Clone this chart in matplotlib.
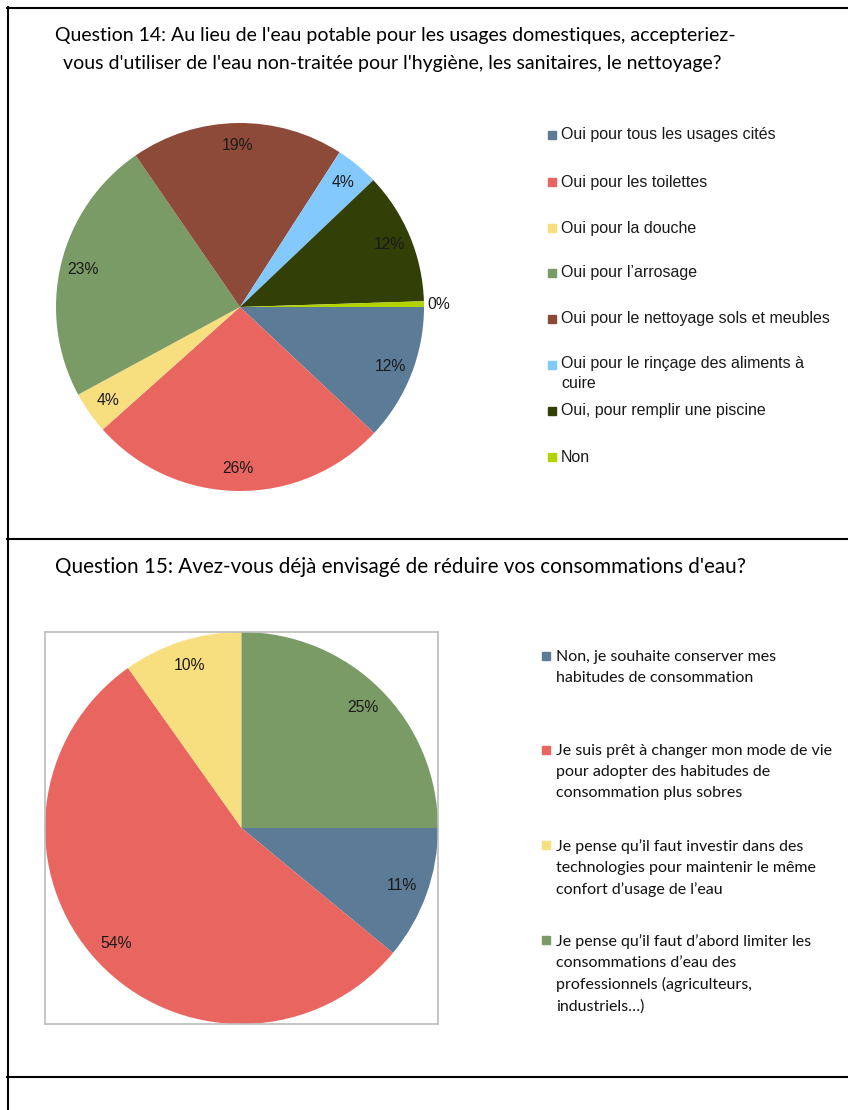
import numpy as np
import matplotlib
matplotlib.use("Agg")
import matplotlib.pyplot as plt
from matplotlib.lines import Line2D
from matplotlib.patches import Rectangle

W, H = 848, 1110

# Question 14 data
q14_labels = ["Oui pour tous les usages cités", "Oui pour les toilettes",
              "Oui pour la douche", "Oui pour l\u2019arrosage",
              "Oui pour le nettoyage sols et meubles",
              "Oui pour le rinçage des aliments à\ncuire",
              "Oui, pour remplir une piscine", "Non"]
q14_values = [12.0, 26.4, 3.7, 23.3, 18.7, 3.8, 11.6, 0.5]
q14_colors = ["#5C7B96", "#E8665F", "#F7DF80", "#7A9A66",
              "#8E4A39", "#84C9FE", "#323F06", "#B3D300"]

# Question 15 data
q15_labels = ["Non, je souhaite conserver mes\nhabitudes de consommation",
              "Je suis prêt à changer mon mode de vie\npour adopter des habitudes de\nconsommation plus sobres",
              "Je pense qu\u2019il faut investir dans des\ntechnologies pour maintenir le même\nconfort d\u2019usage de l\u2019eau",
              "Je pense qu\u2019il faut d\u2019abord limiter les\nconsommations d\u2019eau des\nprofessionnels (agriculteurs,\nindustriels\u2026)"]
q15_values = [11.0, 54.2, 9.8, 25.0]
q15_colors = ["#5C7B96", "#E8665F", "#F7DF80", "#7A9A66"]

fig = plt.figure(figsize=(W / 100, H / 100), dpi=100)


def px_axes(x0, y0, w, h):
    return fig.add_axes([x0 / W, 1 - (y0 + h) / H, w / W, h / H])


def fx(x):
    return x / W


def fy(y):
    return 1 - y / H


# table borders
for y in [8, 539, 1077]:
    fig.add_artist(Line2D([fx(7), 1], [fy(y), fy(y)], color="black", lw=1.5))
fig.add_artist(Line2D([fx(7.5), fx(7.5)], [fy(7), 0], color="black", lw=1.5))

title_font = "Lato"
fig.text(fx(55), fy(35), "Question 14: Au lieu de l'eau potable pour les usages domestiques, accepteriez-",
         fontsize=14, family=title_font, va="center", ha="left")
fig.text(fx(392), fy(63), "vous d'utiliser de l'eau non-traitée pour l'hygiène, les sanitaires, le nettoyage?",
         fontsize=14, family=title_font, va="center", ha="center")
fig.text(fx(55), fy(567), "Question 15: Avez-vous déjà envisagé de réduire vos consommations d'eau?",
         fontsize=14.9, family=title_font, va="center", ha="left")

lbl = dict(fontsize=11.3, family="Liberation Sans", color="#1A1A1A")

# pie 14
ax1 = px_axes(56, 123, 368, 368)
wedges, texts, autotexts = ax1.pie(q14_values, colors=q14_colors, startangle=0,
                                   counterclock=False, autopct="%1.0f%%",
                                   pctdistance=0.88, radius=1.0, textprops=lbl)
# the "Non" label sits outside the pie
w = wedges[-1]
ang = np.deg2rad((w.theta1 + w.theta2) / 2)
autotexts[-1].set_position((1.02 * np.cos(ang), 1.02 * np.sin(ang)))
autotexts[-1].set_ha("left")
ax1.set_xlim(-1, 1)
ax1.set_ylim(-1, 1)
ax1.axis("off")

# legend 14
leg_y = [135, 182, 228, 273, 319, 365, 411, 457]
for lab, col, y in zip(q14_labels, q14_colors, leg_y):
    fig.add_artist(Rectangle((fx(548), fy(y + 4)), 8 / W, 8 / H, color=col))
    if "\n" in lab:
        fig.text(fx(561), fy(y - 9), lab, fontsize=11.5, family="Liberation Sans",
                 va="top", ha="left", color="#1A1A1A", linespacing=1.4)
    else:
        fig.text(fx(561), fy(y), lab, fontsize=11.5, family="Liberation Sans",
                 va="center", ha="left", color="#1A1A1A")

# pie 15
ax2 = px_axes(45, 632, 393, 392)
ax2.pie(q15_values, colors=q15_colors, startangle=0, counterclock=False,
        autopct="%1.0f%%", pctdistance=0.87, radius=1.0, textprops=lbl)
ax2.set_xlim(-1, 1)
ax2.set_ylim(-1, 1)
ax2.set_aspect("auto")
ax2.set_frame_on(True)
for s in ax2.spines.values():
    s.set_color("#BBBBBB")
    s.set_linewidth(1.2)
ax2.set_xticks([])
ax2.set_yticks([])

# legend 15
leg2_y = [656, 750, 845, 940]
for lab, col, y in zip(q15_labels, q15_colors, leg2_y):
    fig.add_artist(Rectangle((fx(542), fy(y + 4)), 8 / W, 8 / H, color=col))
    fig.text(fx(556), fy(y - 6), lab, fontsize=11.5, family="Lato",
             va="top", ha="left", color="#111111", linespacing=1.62)

fig.savefig("out.png", dpi=100)
